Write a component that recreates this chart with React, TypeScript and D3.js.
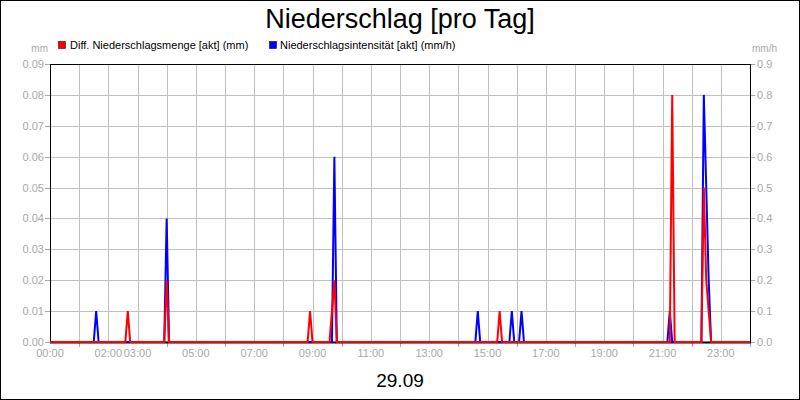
import React from "react";
import * as d3 from "d3";

const title = "Niederschlag [pro Tag]";
const dateLabel = "29.09";
const seriesNames = ["Diff. Niederschlagsmenge [akt] (mm)", "Niederschlagsintensität [akt] (mm/h)"];
const seriesColors = ["#ff0000", "#0000ff"];

const mmTimes = ["00:00","02:35","02:40","02:45","03:55","04:00","04:05","08:50","08:55","09:00","09:35","09:45","09:50","15:20","15:25","15:30","21:15","21:20","21:25","22:20","22:25","22:30","22:35","22:40","24:00"];
const mmValues = [0,0,0.01,0,0,0.02,0,0,0.01,0,0,0.02,0,0,0.01,0,0,0.08,0,0,0.05,0.02,0.01,0,0];

const intTimes = ["00:00","01:30","01:35","01:40","03:55","04:00","04:05","09:40","09:45","09:50","14:35","14:40","14:45","15:45","15:50","15:55","16:05","16:10","16:15","21:10","21:15","21:20","22:20","22:25","22:30","22:35","22:40","24:00"];
const intValues = [0,0,0.1,0,0,0.4,0,0,0.6,0,0,0.1,0,0,0.1,0,0,0.1,0,0,0.1,0,0,0.8,0.5,0.2,0,0];

const leftTicks = [0, 0.01, 0.02, 0.03, 0.04, 0.05, 0.06, 0.07, 0.08, 0.09];
const rightTicks = [0, 0.1, 0.2, 0.3, 0.4, 0.5, 0.6, 0.7, 0.8, 0.9];
const xLabelHours = [0, 2, 3, 5, 7, 9, 11, 13, 15, 17, 19, 21, 23];
const gridHours = d3.range(1, 24);

const toH = (s: string) => {
  const [h, m] = s.split(":").map(Number);
  return h + m / 60;
};

export default function App() {
  const W = 800, H = 400;
  const L = 50, R = 750, T = 64, B = 342;
  const x = d3.scaleLinear().domain([0, 24]).range([L, R]);
  const yL = d3.scaleLinear().domain([0, 0.09]).range([B, T]);
  const yR = d3.scaleLinear().domain([0, 0.9]).range([B, T]);
  const font = "'Liberation Sans', Arial, sans-serif";
  const gray = "#a8a8a8";
  const grid = "#c0c0c0";

  const mmLine = d3.line<number>().x((_, i) => x(toH(mmTimes[i]))).y((d) => yL(d));
  const intLine = d3.line<number>().x((_, i) => x(toH(intTimes[i]))).y((d) => yR(d));
  const fmt2 = d3.format(".2f");
  const fmt1 = d3.format(".1f");
  const pad = (h: number) => (h < 10 ? "0" + h : "" + h) + ":00";

  return (
    <svg width={W} height={H} style={{ position: "absolute", left: 0, top: 0, background: "#fff" }} fontFamily={font}>
      <rect x={0.5} y={0.5} width={W - 1} height={H - 1} fill="#fff" stroke="#000" />
      <text x={400} y={28} textAnchor="middle" fontSize={27} fill="#000">{title}</text>
      {/* legend */}
      <rect x={58.5} y={41.5} width={7} height={7} fill={seriesColors[0]} stroke="#400" strokeWidth={0.6} />
      <text x={70} y={49} fontSize={11} fill="#000">{seriesNames[0]}</text>
      <rect x={269.5} y={41.5} width={7} height={7} fill={seriesColors[1]} stroke="#004" strokeWidth={0.6} />
      <text x={280} y={49} fontSize={11} fill="#000">{seriesNames[1]}</text>
      <text x={48} y={52} textAnchor="end" fontSize={10} fill={gray}>mm</text>
      <text x={752} y={52} fontSize={10} fill={gray}>mm/h</text>
      {/* grid */}
      {leftTicks.slice(1).map((t) => (
        <line key={"hg" + t} x1={L} x2={R} y1={Math.round(yL(t)) + 0.5} y2={Math.round(yL(t)) + 0.5} stroke={grid} />
      ))}
      {gridHours.map((h) => (
        <line key={"vg" + h} x1={Math.round(x(h)) + 0.5} x2={Math.round(x(h)) + 0.5} y1={T} y2={B} stroke={grid} />
      ))}
      {/* left ticks */}
      {leftTicks.map((t) => (
        <g key={"lt" + t}>
          <line x1={45} x2={L} y1={Math.round(yL(t)) + 0.5} y2={Math.round(yL(t)) + 0.5} stroke={gray} />
          <text x={44} y={yL(t) + 4} textAnchor="end" fontSize={11} fill={gray}>{fmt2(t)}</text>
        </g>
      ))}
      {rightTicks.map((t) => (
        <g key={"rt" + t}>
          <line x1={R} x2={755} y1={Math.round(yR(t)) + 0.5} y2={Math.round(yR(t)) + 0.5} stroke={gray} />
          <text x={757} y={yR(t) + 4} fontSize={11} fill={gray}>{fmt1(t)}</text>
        </g>
      ))}
      {/* x ticks */}
      {d3.range(0, 25).filter((h) => !xLabelHours.includes(h)).map((h) => (
        <line key={"xt" + h} x1={Math.round(x(h)) + 0.5} x2={Math.round(x(h)) + 0.5} y1={B} y2={B + 5} stroke={gray} />
      ))}
      {xLabelHours.map((h) => (
        <text key={"xl" + h} x={x(h)} y={357} textAnchor="middle" fontSize={11} fill={gray}>{pad(h)}</text>
      ))}
      {/* frame */}
      <line x1={L} x2={R} y1={T + 0.5} y2={T + 0.5} stroke="#000" />
      <line x1={L + 0.5} x2={L + 0.5} y1={T} y2={B} stroke="#000" />
      <line x1={R + 0.5} x2={R + 0.5} y1={T} y2={B} stroke="#000" />
      <line x1={L} x2={R + 1} y1={B + 0.5} y2={B + 0.5} stroke="#000" strokeWidth={2} />
      {/* series */}
      <path d={intLine(intValues) || ""} fill="none" stroke={seriesColors[1]} strokeWidth={2} strokeLinejoin="miter" />
      <path d={mmLine(mmValues) || ""} fill="none" stroke={seriesColors[0]} strokeWidth={2} strokeLinejoin="miter" />
      <text x={400} y={387} textAnchor="middle" fontSize={19} fill="#000">{dateLabel}</text>
    </svg>
  );
}
